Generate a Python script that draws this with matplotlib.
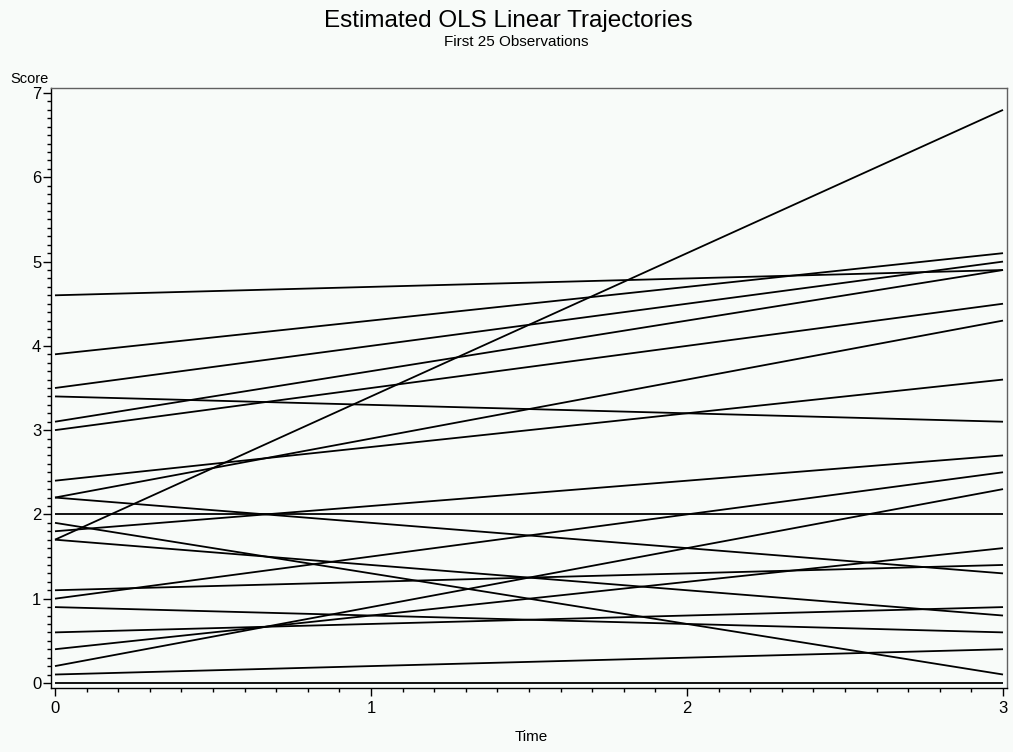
import matplotlib
matplotlib.use("Agg")
import matplotlib.pyplot as plt
from matplotlib.ticker import MultipleLocator

plt.rcParams['font.family'] = ['Liberation Sans', 'DejaVu Sans']

# Fitted OLS trajectories: value at Time 0 (intercept) and at Time 3
time_points = [0, 3]
score_at_0 = [4.6, 3.9, 3.5, 3.4, 3.1, 3.0, 2.4, 2.2, 2.2, 2.0, 1.9,
              1.8, 1.7, 1.7, 1.1, 1.0, 0.9, 0.6, 0.4, 0.2, 0.1, 0.0]
score_at_3 = [4.9, 5.1, 5.0, 3.1, 4.9, 4.5, 3.6, 4.3, 1.3, 2.0, 0.1,
              2.7, 6.8, 0.8, 1.4, 2.5, 0.6, 0.9, 1.6, 2.3, 0.4, 0.0]

x_ticks = [0, 1, 2, 3]
y_ticks = [0, 1, 2, 3, 4, 5, 6, 7]

W, H = 1013, 752
bg = '#F8FBF9'
fig = plt.figure(figsize=(W / 100, H / 100), dpi=100, facecolor=bg)
ax = fig.add_axes([51 / W, 1 - 688 / H, (1007 - 51) / W, (688 - 88) / H])
ax.set_facecolor(bg)

for s0, s3 in zip(score_at_0, score_at_3):
    ax.plot(time_points, [s0, s3], color='black', lw=1.3, solid_capstyle='butt')

ax.set_xlim(-0.0126, 3.0126)
ax.set_ylim(-0.06, 7.06)
ax.set_xticks(x_ticks)
ax.set_yticks(y_ticks)
ax.xaxis.set_minor_locator(MultipleLocator(0.1))
ax.yaxis.set_minor_locator(MultipleLocator(0.1))
ax.tick_params(which='major', direction='out', length=5.5, width=1.0,
               color='black', labelsize=12, pad=1.5)
ax.tick_params(which='minor', direction='out', length=3, width=1.0, color='black')
ax.tick_params(axis='x', which='major', pad=4)

for sp in ax.spines.values():
    sp.set_color('#606060')
    sp.set_linewidth(1.0)
ax.spines['left'].set_color('black')
ax.spines['bottom'].set_color('black')

fig.text(508 / W, 1 - 21 / H, 'Estimated OLS Linear Trajectories',
         ha='center', va='center', fontsize=17.5)
fig.text(516 / W, 1 - 42 / H, 'First 25 Observations',
         ha='center', va='center', fontsize=11)
fig.text(10 / W, 1 - 79 / H, 'Score', ha='left', va='center', fontsize=10.5)
fig.text(531 / W, 1 - 737 / H, 'Time', ha='center', va='center', fontsize=11)

fig.savefig('out.png', dpi=100, facecolor=bg)
